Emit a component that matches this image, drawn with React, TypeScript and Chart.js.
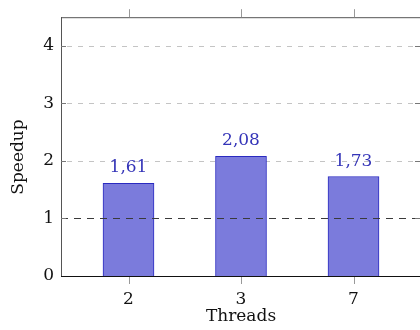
import React, { useEffect, useRef } from "react";
import { Chart, registerables } from "chart.js";

Chart.register(...registerables);

const categories = ["2", "3", "7"];
const speedups = [1.61, 2.08, 1.73];
const valueLabels = ["1,61", "2,08", "1,73"];
const yTicks = [0, 1, 2, 3, 4];
const yMax = 4.5;
const referenceLine = 1;
const xTitle = "Threads";
const yTitle = "Speedup";

const FONT = "DejaVu Serif";
const FSIZE = 17;

const decor = {
  id: "decor",
  beforeDatasetsDraw(chart: any) {
    const { ctx, chartArea: a, scales } = chart;
    const y = scales.y;
    ctx.save();
    ctx.strokeStyle = "#c4c4c4";
    ctx.lineWidth = 1;
    ctx.setLineDash([5, 6]);
    yTicks.forEach((v) => {
      if (v === 0 || v === referenceLine) return;
      const py = Math.round(y.getPixelForValue(v)) + 0.5;
      ctx.beginPath();
      ctx.moveTo(a.left + 6, py);
      ctx.lineTo(a.right, py);
      ctx.stroke();
    });
    ctx.restore();
  },
  afterDatasetsDraw(chart: any) {
    const { ctx, chartArea: a, scales } = chart;
    const x = scales.x;
    const y = scales.y;
    ctx.save();
    // reference dashed line
    const ry = Math.round(y.getPixelForValue(referenceLine)) + 0.5;
    ctx.strokeStyle = "#3a3a3a";
    ctx.lineWidth = 1.2;
    ctx.setLineDash([7, 6]);
    ctx.beginPath();
    ctx.moveTo(a.left, ry);
    ctx.lineTo(a.right, ry);
    ctx.stroke();
    ctx.setLineDash([]);

    // inner y ticks (left and right)
    ctx.strokeStyle = "#777";
    ctx.lineWidth = 1;
    yTicks.forEach((v) => {
      const py = Math.round(y.getPixelForValue(v)) + 0.5;
      ctx.beginPath();
      ctx.moveTo(a.left, py);
      ctx.lineTo(a.left + 5, py);
      ctx.moveTo(a.right - 6, py);
      ctx.lineTo(a.right, py);
      ctx.stroke();
    });

    // top border and top/bottom x ticks
    ctx.strokeStyle = "#555";
    ctx.beginPath();
    ctx.moveTo(a.left, a.top + 0.5);
    ctx.lineTo(a.right, a.top + 0.5);
    ctx.moveTo(a.right + 0.5, a.top);
    ctx.lineTo(a.right + 0.5, a.bottom);
    ctx.stroke();
    ctx.strokeStyle = "#999";
    categories.forEach((_, i) => {
      const px = Math.round(x.getPixelForValue(i)) + 0.5;
      ctx.beginPath();
      ctx.moveTo(px, a.top - 8);
      ctx.lineTo(px, a.top);
      ctx.moveTo(px, a.bottom + 1);
      ctx.lineTo(px, a.bottom + 8);
      ctx.stroke();
    });

    // bottom axis line
    ctx.strokeStyle = "#111";
    ctx.beginPath();
    ctx.moveTo(a.left, a.bottom + 0.5);
    ctx.lineTo(a.right, a.bottom + 0.5);
    ctx.stroke();

    // value labels
    ctx.fillStyle = "#3434b8";
    ctx.font = `${FSIZE}px "${FONT}"`;
    ctx.textAlign = "center";
    ctx.textBaseline = "alphabetic";
    const meta = chart.getDatasetMeta(0);
    meta.data.forEach((bar: any, i: number) => {
      ctx.fillText(valueLabels[i], bar.x, bar.y - 11);
    });

    // axis titles
    ctx.fillStyle = "#111";
    ctx.fillText(xTitle, (a.left + a.right) / 2, 321);
    ctx.translate(23, 157);
    ctx.rotate(-Math.PI / 2);
    ctx.fillText(yTitle, 0, 0);
    ctx.restore();
  },
};

export default function App() {
  const ref = useRef<HTMLCanvasElement | null>(null);
  useEffect(() => {
    if (!ref.current) return;
    const chart = new Chart(ref.current, {
      type: "bar",
      data: {
        datasets: [
          {
            data: speedups.map((v, i) => ({ x: i, y: v })),
            backgroundColor: "#7b7bdc",
            borderColor: "#2a2ac0",
            borderWidth: 1,
            borderSkipped: "start",
            barThickness: 51,
          },
        ],
      },
      options: {
        animation: false,
        responsive: false,
        events: [],
        layout: { padding: { left: 0, top: 14, right: 19, bottom: 0 } },
        plugins: { legend: { display: false }, tooltip: { enabled: false } },
        scales: {
          x: {
            type: "linear",
            min: -0.6,
            max: 2.6,
            offset: false,
            afterBuildTicks: (s: any) => {
              s.ticks = categories.map((_, i) => ({ value: i }));
            },
            afterFit: (s: any) => {
              s.height = 54;
            },
            ticks: {
              callback: (v: any) => categories[v as number] ?? "",
              font: { family: FONT, size: FSIZE },
              color: "#111",
              padding: 13,
              maxRotation: 0,
            },
            grid: { display: false, offset: false, drawTicks: false },
            border: { display: false },
          },
          y: {
            min: 0,
            max: yMax,
            afterBuildTicks: (s: any) => {
              s.ticks = yTicks.map((v) => ({ value: v }));
            },
            afterFit: (s: any) => {
              s.width = 61;
            },
            ticks: {
              font: { family: FONT, size: FSIZE },
              color: "#111",
              padding: 7,
            },
            grid: { display: false, drawTicks: false },
            border: { display: true, color: "#555", width: 1 },
          },
        },
      },
      plugins: [decor],
    } as any);
    return () => chart.destroy();
  }, []);
  return (
    <div
      style={{
        position: "fixed",
        left: 0,
        top: 0,
        width: 420,
        height: 330,
        overflow: "hidden",
        background: "#fff",
      }}
    >
      <canvas ref={ref} width={440} height={330} style={{ width: 440, height: 330, display: "block" }} />
    </div>
  );
}
